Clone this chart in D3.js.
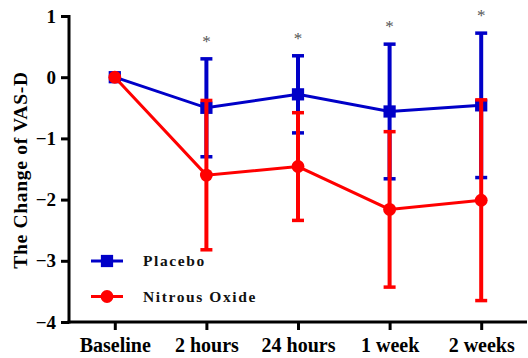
<!DOCTYPE html>
<html>
<head>
<meta charset="utf-8">
<script src="https://cdn.jsdelivr.net/npm/d3@7"></script>
<style>
  html, body { margin: 0; padding: 0; background: #fff; }
  svg { display: block; }
</style>
</head>
<body>
<svg id="chart" width="528" height="358"></svg>
<script>
// Time points and group results (mean change in VAS-D with SD)
const timepoints = ["Baseline", "2 hours", "24 hours", "1 week", "2 weeks"];
const placeboMean = [0, -0.5, -0.28, -0.56, -0.46];
const placeboSD   = [0, 0.8, 0.63, 1.1, 1.18];
const nitrousMean = [0, -1.6, -1.46, -2.16, -2.01];
const nitrousSD   = [0, 1.22, 0.88, 1.27, 1.64];
const significant = [false, true, true, true, true];
const yTicks = [1, 0, -1, -2, -3, -4];

const svg = d3.select("#chart");
const plotLeft = 69, plotRight = 527, plotTop = 16, plotBottom = 322;

const x = d3.scalePoint().domain(timepoints).range([plotLeft, plotRight]).padding(0.5);
const y = d3.scaleLinear().domain([-4, 1]).range([plotBottom, plotTop]);

const serif = "'Liberation Serif', 'Times New Roman', serif";
const BLUE = "#0000c8", RED = "#ff0000";

// Axes
const yAxis = svg.append("g").attr("transform", `translate(${plotLeft},0)`)
  .call(d3.axisLeft(y).tickValues(yTicks).tickSize(8).tickPadding(5).tickFormat(d3.format("d")));
const xAxis = svg.append("g").attr("transform", `translate(0,${plotBottom})`)
  .call(d3.axisBottom(x).tickSize(8).tickPadding(7));
[yAxis, xAxis].forEach(g => {
  g.select(".domain").attr("stroke", "#000").attr("stroke-width", 3);
  g.selectAll(".tick line").attr("stroke", "#000").attr("stroke-width", 3);
  g.selectAll(".tick text").attr("fill", "#000").attr("font-family", serif)
    .attr("font-weight", "bold");
});
yAxis.select(".domain").attr("d", `M0,${plotTop - 1}V${plotBottom + 1.5}`);
xAxis.select(".domain").attr("d", `M${plotLeft - 1.5},0H${plotRight}`);
yAxis.selectAll(".tick text").attr("font-size", 19);
xAxis.selectAll(".tick text").attr("font-size", 20).attr("y", 30).attr("dy", null);

// Axis title
svg.append("text")
  .attr("transform", `translate(20,170) rotate(-90)`)
  .attr("text-anchor", "middle")
  .attr("dy", "0.35em")
  .attr("font-family", serif).attr("font-weight", "bold").attr("font-size", 19.5)
  .attr("letter-spacing", 0.7)
  .text("The Change of VAS-D");

// Draws one group: error bars, connecting line, markers
function drawSeries(means, sds, color, shape, size) {
  const g = svg.append("g");
  const pts = timepoints.map((t, i) => ({ t, m: means[i], s: sds[i] }));
  const capW = 12;
  pts.filter(p => p.s > 0).forEach(p => {
    const cx = x(p.t);
    g.append("line").attr("x1", cx).attr("x2", cx)
      .attr("y1", y(p.m + p.s)).attr("y2", y(p.m - p.s))
      .attr("stroke", color).attr("stroke-width", 4);
    [p.m + p.s, p.m - p.s].forEach(v => {
      g.append("line").attr("x1", cx - capW / 2).attr("x2", cx + capW / 2)
        .attr("y1", y(v)).attr("y2", y(v))
        .attr("stroke", color).attr("stroke-width", 3.5);
    });
  });
  g.append("path").datum(pts)
    .attr("fill", "none").attr("stroke", color).attr("stroke-width", 3)
    .attr("d", d3.line().x(p => x(p.t)).y(p => y(p.m)));
  g.selectAll(".mk").data(pts).enter().append("path")
    .attr("transform", p => `translate(${x(p.t)},${y(p.m)})`)
    .attr("d", d3.symbol().type(shape).size(size))
    .attr("fill", color);
}

drawSeries(placeboMean, placeboSD, BLUE, d3.symbolSquare, 150);
drawSeries(nitrousMean, nitrousSD, RED, d3.symbolCircle, 130);

// Significance markers above the placebo upper bar
svg.selectAll(".star").data(timepoints.filter((t, i) => significant[i])).enter()
  .append("text")
  .attr("x", t => x(t))
  .attr("y", t => { const i = timepoints.indexOf(t); return y(placeboMean[i] + placeboSD[i]) - 12; })
  .attr("text-anchor", "middle")
  .attr("font-family", serif).attr("font-size", 17).attr("fill", "#555")
  .text("*");

// Legend
const legend = [
  { name: "Placebo", color: BLUE, shape: d3.symbolSquare, size: 150 },
  { name: "Nitrous Oxide", color: RED, shape: d3.symbolCircle, size: 130 }
];
legend.forEach((d, i) => {
  const ly = 261 + i * 35.5;
  svg.append("line").attr("x1", 91).attr("x2", 123).attr("y1", ly).attr("y2", ly)
    .attr("stroke", d.color).attr("stroke-width", 3);
  svg.append("path").attr("transform", `translate(107,${ly})`)
    .attr("d", d3.symbol().type(d.shape).size(d.size)).attr("fill", d.color);
  svg.append("text").attr("x", 143).attr("y", ly).attr("dy", "0.35em")
    .attr("font-family", serif).attr("font-weight", "bold").attr("font-size", 15.5)
    .attr("letter-spacing", 1.6).attr("fill", "#111")
    .text(d.name);
});
</script>
</body>
</html>
